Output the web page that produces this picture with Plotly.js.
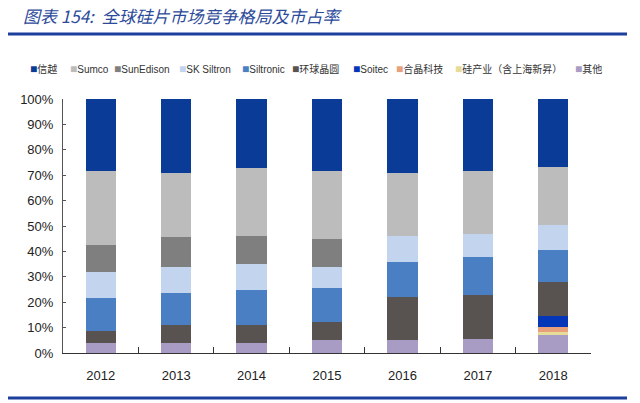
<!DOCTYPE html>
<html>
<head>
<meta charset="utf-8">
<script src="https://cdn.plot.ly/plotly-3.0.1.min.js"></script>
<style>
  html, body { margin: 0; padding: 0; background: #fff; }
  #chart { width: 640px; height: 403px; }
</style>
</head>
<body>
<div id="chart"></div>
<script>
// 年份
const years = ['2012', '2013', '2014', '2015', '2016', '2017', '2018'];

// 各厂商市占率 (%)
const shinEtsu   = [28.4, 29.2, 27.3, 28.3, 29.2, 28.3, 26.6];
const sumco      = [29.2, 25.1, 26.8, 26.9, 24.9, 25.0, 22.9];
const sunEdison  = [10.6, 12.0, 11.0, 11.0, 0, 0, 0];
const skSiltron  = [10.0, 10.0, 10.0, 8.2, 10.0, 9.0, 9.9];
const siltronic  = [13.2, 12.8, 14.0, 13.5, 13.9, 15.0, 12.7];
const globalWafers = [4.7, 7.0, 7.0, 7.1, 17.0, 17.1, 13.2];
const soitec     = [0, 0, 0, 0, 0, 0, 4.3];
const wafertech  = [0, 0, 0, 0, 0, 0, 2.2];
const nsig       = [0, 0, 0, 0, 0, 0, 1.2];
const others     = [3.9, 3.9, 3.9, 5.0, 5.0, 5.6, 7.0];

// 图例顺序 (堆叠顺序的反序)
const seriesNames = ['信越', 'Sumco', 'SunEdison', 'SK Siltron', 'Siltronic', '环球晶圆', 'Soitec', '合晶科技', '硅产业（含上海新昇）', '其他'];
const seriesValues = [shinEtsu, sumco, sunEdison, skSiltron, siltronic, globalWafers, soitec, wafertech, nsig, others];
const seriesColors = ['#0a3b96', '#bcbcbc', '#7f7f7f', '#c3d4ee', '#4a7fc4', '#585350', '#0636b8', '#e8a07c', '#e6dc9a', '#a89cc4'];
const legendX = [28, 68, 112, 177, 240, 290, 351, 394, 453, 573];

const plotL = 63, plotR = 591, plotT = 99, plotB = 353;
const pw = plotR - plotL, ph = plotB - plotT;
const px = (x) => (x - plotL) / pw;
const py = (y) => (plotB - y) / ph;

window.onload = () => {
    // 底部先画：其他 -> ... -> 信越
    const traces = [];
    for (let i = seriesNames.length - 1; i >= 0; i--) {
        traces.push({
            type: 'bar',
            name: seriesNames[i],
            x: years,
            y: seriesValues[i],
            marker: { color: seriesColors[i], line: { width: 0 } },
            hoverinfo: 'name+y'
        });
    }

    const legendNotes = seriesNames.map((name, i) => ({
        xref: 'paper', yref: 'paper',
        x: px(legendX[i]), y: py(69),
        xanchor: 'left', yanchor: 'middle',
        showarrow: false,
        text: '<span style="color:' + seriesColors[i] + ';font-size:12px">■</span>' + name,
        font: { family: 'Liberation Sans, Noto Sans CJK SC, sans-serif', size: 10, color: '#333' }
    }));

    const layout = {
        width: 640,
        height: 403,
        margin: { l: plotL, r: 640 - plotR, t: plotT, b: 403 - plotB, pad: 0 },
        paper_bgcolor: '#fff',
        plot_bgcolor: '#fff',
        barmode: 'stack',
        bargap: 0.6,
        showlegend: false,
        title: {
            text: '图表 154:  全球硅片市场竞争格局及市占率',
            x: 23 / 640, xref: 'container', xanchor: 'left',
            y: 1 - 17 / 403, yref: 'container', yanchor: 'middle',
            font: { family: 'Noto Sans CJK SC, sans-serif', size: 17, color: '#2c4a9a', style: 'italic' }
        },
        xaxis: {
            type: 'category',
            tickson: 'boundaries',
            ticks: 'inside',
            ticklen: 6,
            tickcolor: '#333',
            showline: true,
            linecolor: '#333',
            linewidth: 1,
            showgrid: false,
            ticklabelstandoff: 10,
            tickfont: { family: 'Liberation Sans, sans-serif', size: 13, color: '#222' }
        },
        yaxis: {
            range: [0, 100],
            dtick: 10,
            ticksuffix: '%',
            ticks: 'inside',
            ticklen: 3,
            tickcolor: '#555',
            showline: true,
            linecolor: '#555',
            linewidth: 1,
            showgrid: false,
            zeroline: false,
            ticklabelstandoff: 6,
            tickfont: { family: 'Liberation Sans, sans-serif', size: 13, color: '#222' }
        },
        shapes: [
            {
                type: 'line', xref: 'paper', yref: 'paper',
                x0: px(8), x1: px(627), y0: py(34), y1: py(34),
                line: { color: '#1c3f9e', width: 3 }
            },
            {
                type: 'line', xref: 'paper', yref: 'paper',
                x0: px(8), x1: px(627), y0: py(398), y1: py(398),
                line: { color: '#1c3f9e', width: 3 }
            }
        ],
        annotations: legendNotes
    };

    Plotly.newPlot(document.getElementById('chart'), traces, layout, { displayModeBar: false, staticPlot: true });
};
</script>
</body>
</html>
